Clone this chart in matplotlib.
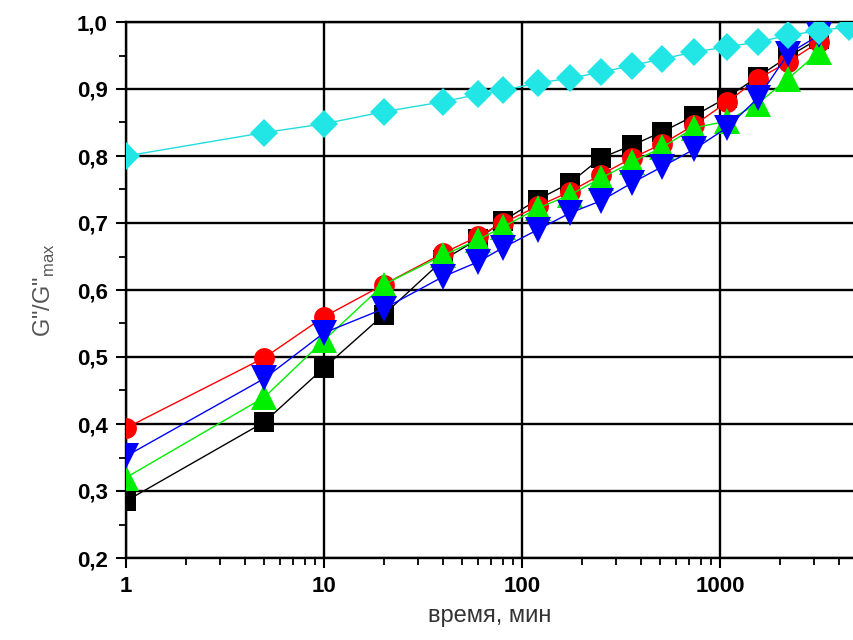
import matplotlib
matplotlib.use("Agg")
import matplotlib.pyplot as plt
from matplotlib.ticker import FixedLocator, FuncFormatter, LogLocator, NullFormatter, MultipleLocator

plt.rcParams['font.family'] = ['Liberation Sans', 'DejaVu Sans']
plt.rcParams['mathtext.fontset'] = 'custom'
plt.rcParams['mathtext.rm'] = 'Liberation Sans'

# time, min
t_all = [1, 5, 10, 20, 40, 60, 80, 120, 175, 250, 360, 510, 740, 1080, 1550, 2200, 3150, 4500]
t = t_all[:17]

black = [0.285, 0.403, 0.484, 0.563, 0.645, 0.676, 0.703, 0.735, 0.760, 0.797, 0.816, 0.836, 0.860, 0.887, 0.918, 0.948, 0.975]
red   = [0.394, 0.499, 0.560, 0.608, 0.655, 0.680, 0.700, 0.725, 0.747, 0.772, 0.797, 0.818, 0.846, 0.880, 0.915, 0.940, 0.970]
green = [0.320, 0.440, 0.525, 0.608, 0.652, 0.675, 0.694, 0.722, 0.742, 0.767, 0.791, 0.813, 0.842, 0.852, 0.878, 0.915, 0.955]
blue  = [0.352, 0.468, 0.536, 0.572, 0.620, 0.642, 0.663, 0.690, 0.715, 0.733, 0.760, 0.784, 0.810, 0.842, 0.886, 0.952, 0.980]
cyan  = [0.800, 0.835, 0.848, 0.866, 0.881, 0.892, 0.898, 0.909, 0.916, 0.925, 0.935, 0.945, 0.955, 0.963, 0.970, 0.980, 0.987, 0.993]

yticks = [0.2, 0.3, 0.4, 0.5, 0.6, 0.7, 0.8, 0.9, 1.0]
xticks = [1, 10, 100, 1000]

fig = plt.figure(figsize=(8.54, 6.4), dpi=100)
ax = fig.add_axes([126/854, 1-558/640, 1-126/854, (558-22)/640])

series = [
    (black, 'black', 's', 15),
    (red, '#ff0000', 'o', 15),
    (green, '#00ee00', '^', 19),
    (blue, '#0000ff', 'v', 19),
]
for i, (vals, col, mk, ms) in enumerate(series):
    ax.plot(t, vals, '-', color=col, lw=1.0, zorder=3 + i)
    ax.plot(t, vals, linestyle='none', marker=mk, ms=ms, color=col, mec=col, mew=0, zorder=4 + i)
ax.plot(t_all, cyan, '-', color='#22dddd', lw=1.0, zorder=9)
ax.plot(t_all, cyan, linestyle='none', marker='D', ms=14, color='#22e6e6', mew=0, zorder=10)

ax.set_xscale('log')
ax.set_xlim(1, 4750)
ax.set_ylim(0.2, 1.0)

ax.xaxis.set_major_locator(FixedLocator(xticks))
ax.xaxis.set_minor_locator(LogLocator(base=10, subs=range(2, 10), numticks=20))
ax.xaxis.set_minor_formatter(NullFormatter())
ax.xaxis.set_major_formatter(FuncFormatter(lambda v, p: f"{int(round(v))}"))
ax.yaxis.set_major_locator(FixedLocator(yticks))
ax.yaxis.set_minor_locator(MultipleLocator(0.05))
ax.yaxis.set_major_formatter(FuncFormatter(lambda v, p: f"{v:.1f}".replace('.', ',')))

ax.grid(True, which='major', color='black', lw=1.7, zorder=1)
ax.set_axisbelow(True)
ax.spines['right'].set_visible(False)
for s in ['left', 'bottom', 'top']:
    ax.spines[s].set_linewidth(1.7)

ax.tick_params(axis='both', which='major', direction='out', length=7, width=1.5,
               labelsize=16, pad=6)
ax.tick_params(axis='both', which='minor', direction='out', length=5, width=1.3)
for lab in ax.get_xticklabels() + ax.get_yticklabels():
    lab.set_fontweight('bold')

ax.set_xlabel('время, мин', fontsize=17, color='#333333', labelpad=6)
ax.set_ylabel('G"/G"$_{\\rm max}$', fontsize=17, color='#555555', labelpad=14)

fig.savefig('out.png', dpi=100)
